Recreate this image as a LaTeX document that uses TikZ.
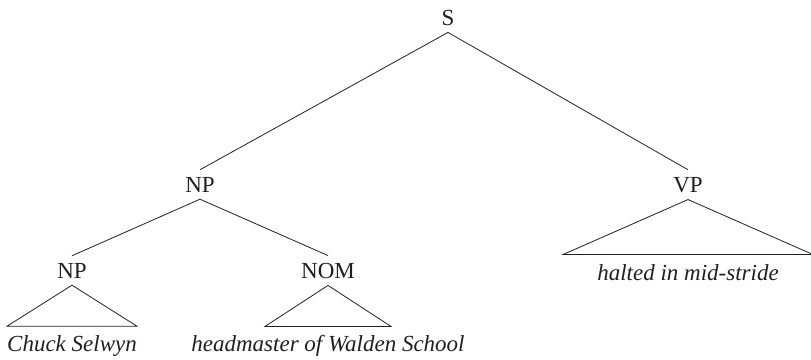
\documentclass[tikz,border=0pt]{standalone}
\usepackage{fontspec}
\setmainfont{Liberation Serif}
\definecolor{InkBlack}{HTML}{231f20}
\usetikzlibrary{positioning,calc}

\tikzset{
  cat/.style={anchor=base,inner sep=7pt,text=InkBlack,
              font=\fontsize{23}{27}\selectfont},
  leaf/.style={anchor=base,inner sep=0pt,text=InkBlack,
               font=\fontsize{23}{27}\selectfont\itshape},
  branch/.style={draw=InkBlack,line width=0.8pt},
}

\begin{document}
\begin{tikzpicture}[x=1pt,y=-1pt]
  \useasboundingbox (0,0) rectangle (811,359);

  % phrase labels
  \node[cat] (sRoot) at (448,25) {S};
  \node[cat] (npSubj) at (200,192) {NP};
  \node[cat] (vpPred) at (688,192) {VP};
  \node[cat] (npName) at (72,278) {NP};
  \node[cat] (nomHead) at (328,278) {NOM};

  % words
  \node[leaf] (wName) at (72,351) {Chuck Selwyn};
  \node[leaf] (wHead) at (328,351) {headmaster of Walden School};
  \node[leaf] (wPred) at (688,280) {halted in mid-stride};

  % branches
  \draw[branch] (npSubj.north) -- (sRoot.south) -- (vpPred.north);
  \draw[branch] (npName.north) -- (npSubj.south) -- (nomHead.north);

  % roofs
  \draw[branch] (npName.south) -- ++(-65,41) -- ++(130,0) -- cycle;
  \draw[branch] (nomHead.south) -- ++(-63,41) -- ++(126,0) -- cycle;
  \draw[branch] (vpPred.south) -- ++(-125,55) -- ++(250,0) -- cycle;
\end{tikzpicture}
\end{document}
